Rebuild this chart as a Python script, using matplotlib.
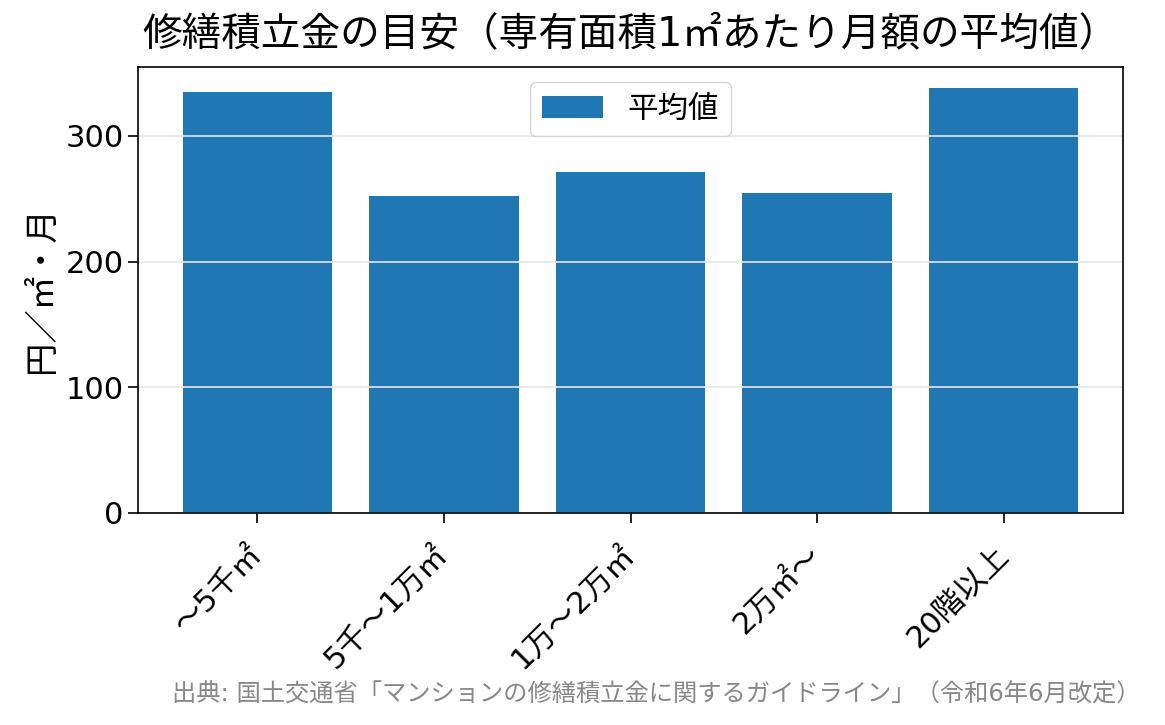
import matplotlib
matplotlib.use('Agg')
import matplotlib.pyplot as plt

plt.rcParams['font.family'] = ['DejaVu Sans', 'Noto Sans CJK JP']

# 規模別の平均値（円／㎡・月）
categories = ['～5千㎡', '5千～1万㎡', '1万～2万㎡', '2万㎡～', '20階以上']
averages = [335, 252, 271, 255, 338]

title = '修繕積立金の目安（専有面積1㎡あたり月額の平均値）'
ylabel = '円／㎡・月'
source = '出典: 国土交通省「マンションの修繕積立金に関するガイドライン」（令和6年6月改定）'

fig = plt.figure(figsize=(11.65, 7.25), dpi=100)
ax = fig.add_axes([138/1165, 1 - 513/725, (1123-138)/1165, (513-67)/725])

x = range(len(categories))
ax.bar(x, averages, width=0.8, color='#1f77b4', label='平均値')
ax.set_xticks(list(x))
ax.set_xticklabels(categories, rotation=45, ha='right', va='center',
                   rotation_mode='anchor', fontsize=22)
ax.tick_params(axis='y', labelsize=22)
ax.tick_params(axis='both', length=7, width=1.2)
ax.tick_params(axis='x', pad=20)
ax.set_ylabel(ylabel, fontsize=24, labelpad=5)
ax.set_title(title, fontsize=28.5, pad=16)
ax.yaxis.grid(True, color='#e6e6e6', linewidth=1.2)
ax.set_yticks([0, 100, 200, 300])
for s in ax.spines.values():
    s.set_linewidth(1.2)

ax.legend(loc='upper center', fontsize=22, handlelength=2.0)

fig.text(1140/1165, 1 - 695/725, source, ha='right', va='center',
         fontsize=17.5, color='#888888')

fig.savefig('out.png', dpi=100)
